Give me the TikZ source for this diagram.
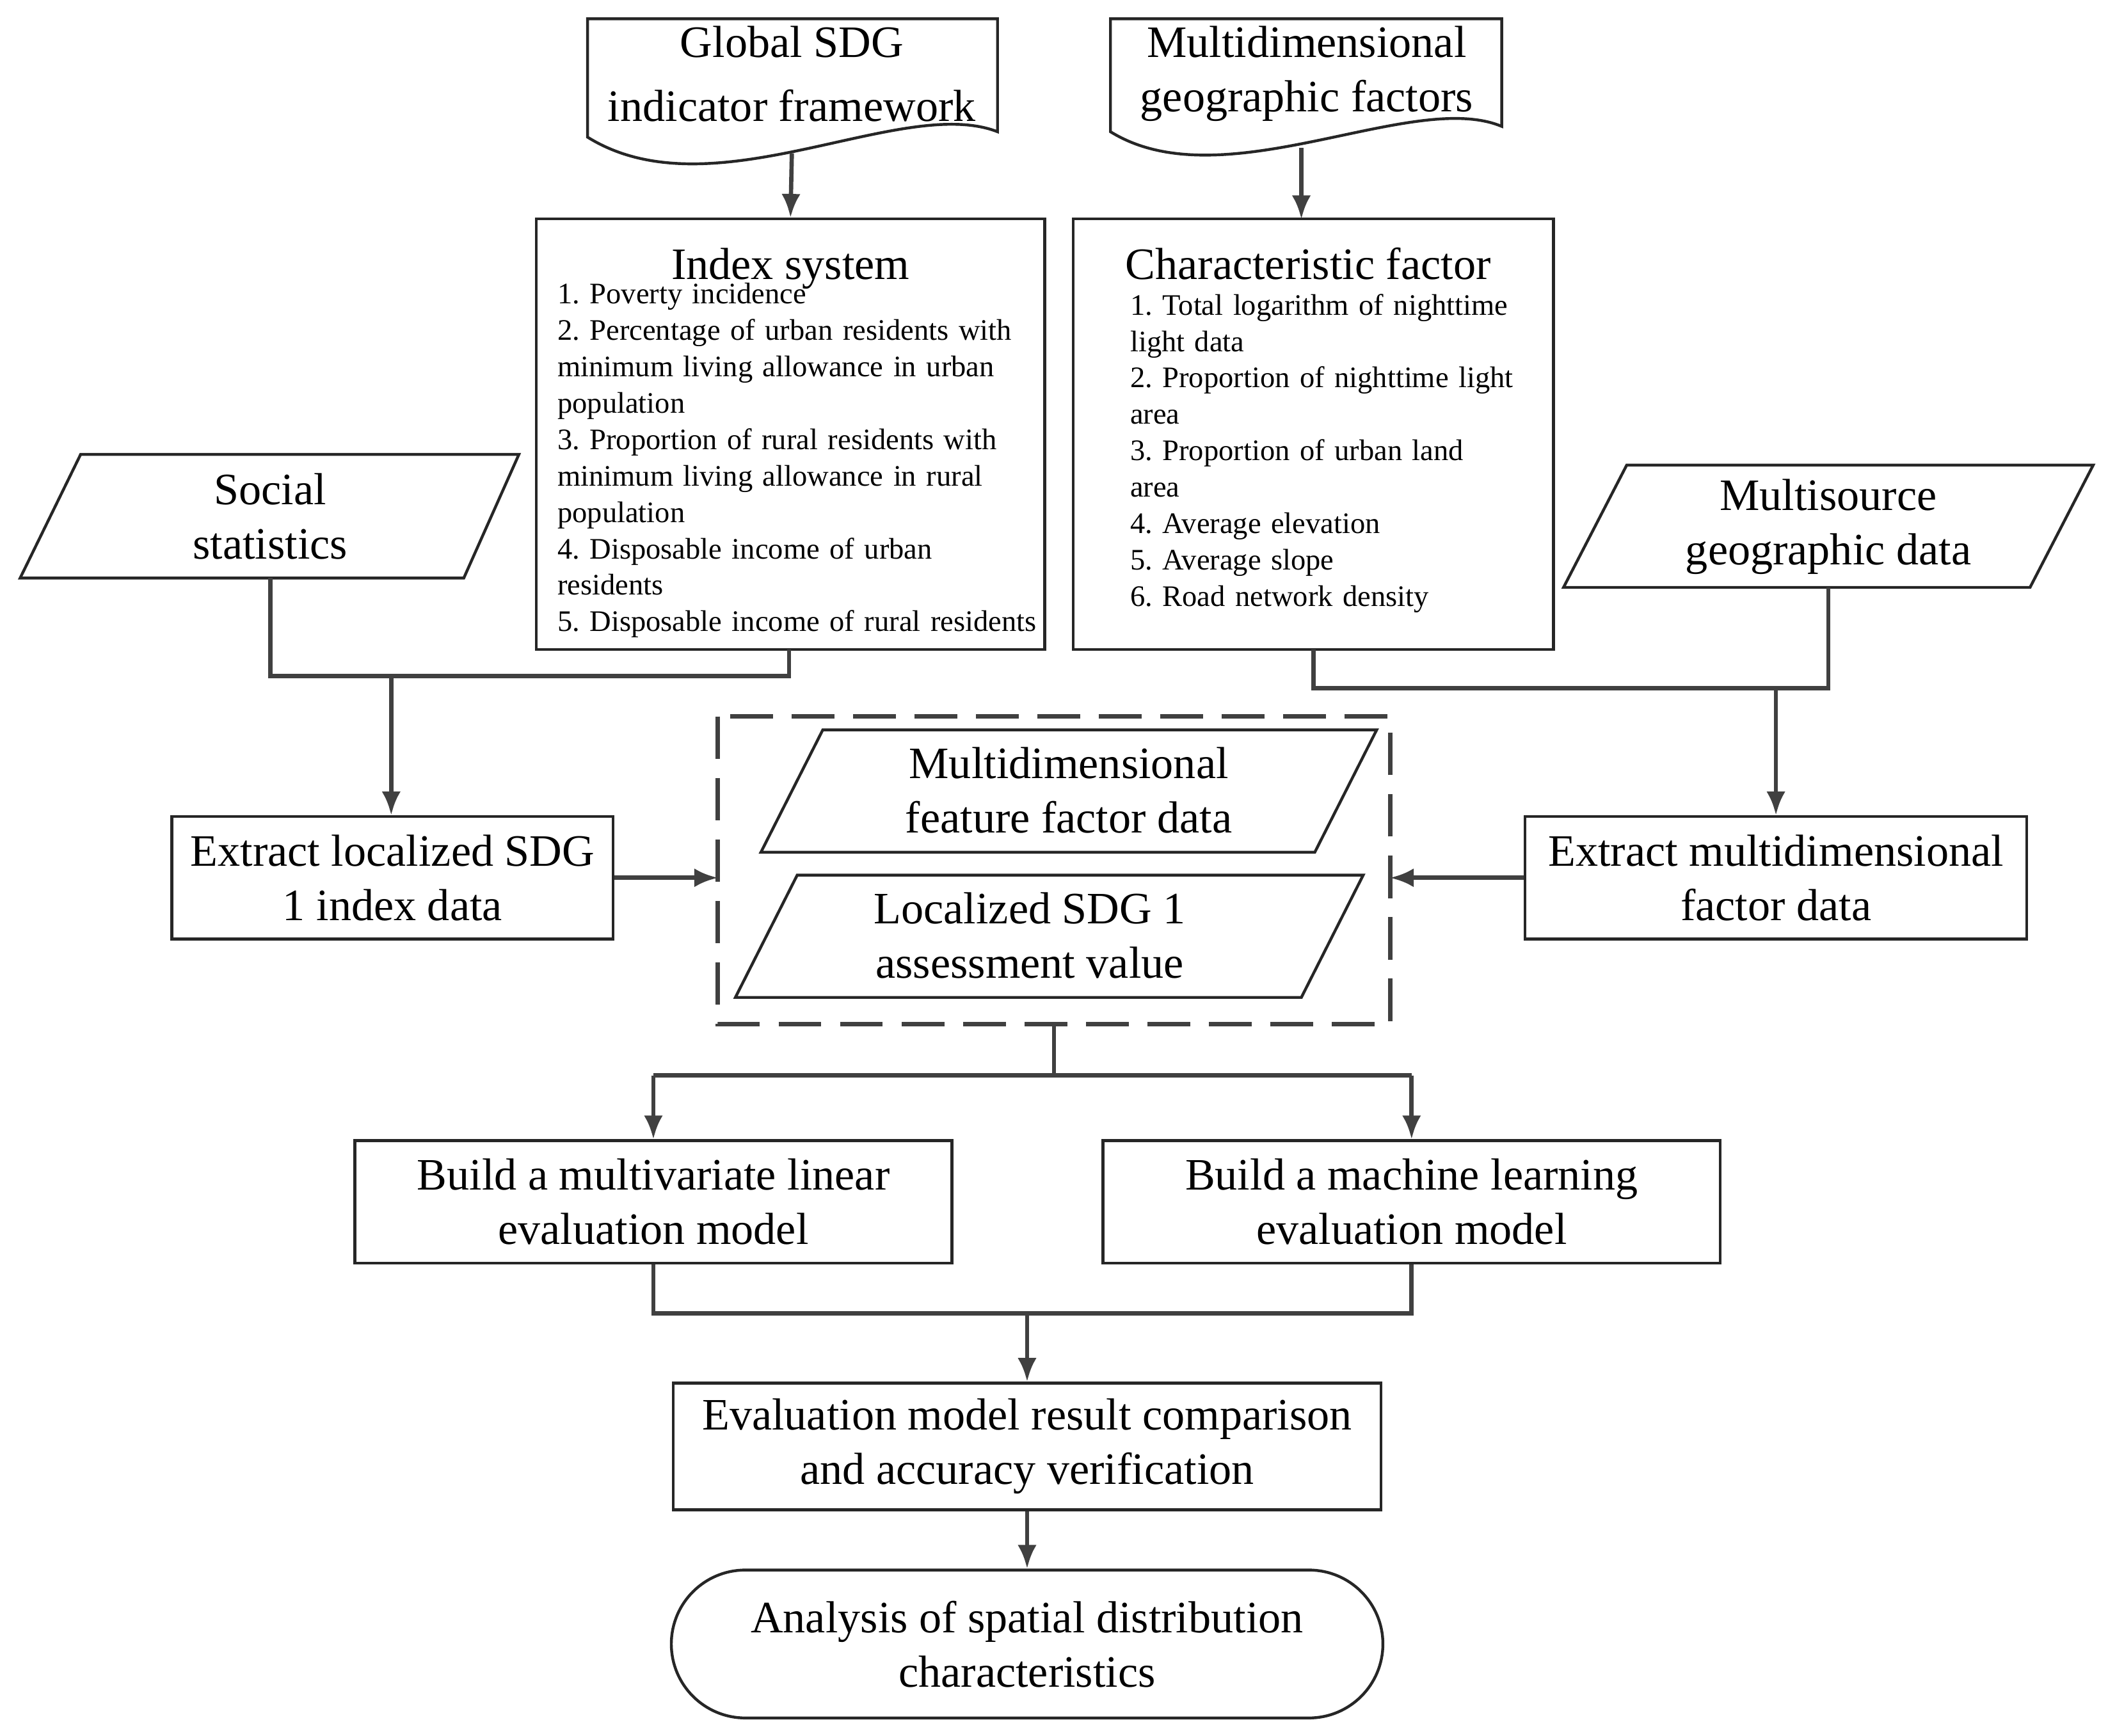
\documentclass[tikz,border=0pt]{standalone}
\usepackage{fontspec}
\setmainfont{Liberation Serif}
\usepackage{tikz}
\usetikzlibrary{arrows.meta}
\usetikzlibrary{positioning}
\newcommand{\nohyph}{\hyphenpenalty=10000 \exhyphenpenalty=10000 \frenchspacing}
\tikzset{
    box/.style={draw=black!85, line width=0.6pt, align=center, font=\fontsize{9.5}{11.5}\selectfont},
    shapeline/.style={draw=black!85, line width=0.6pt},
    txt/.style={align=center, font=\fontsize{9.5}{11.5}\selectfont},
    lst/.style={align=left, font=\fontsize{6.3}{7.7}\selectfont, inner sep=0pt},
    link/.style={draw=black!75, line width=0.9pt},
    arr/.style={draw=black!75, line width=0.9pt, -{Latex[length=5pt,width=4pt]}},
}
\begin{document}
\begin{tikzpicture}[x=0.01cm, y=-0.01cm]
\useasboundingbox (0,0) rectangle (1568,1291);
% documents
\draw[shapeline] (437,14) -- (742,14) -- (742,98) .. controls (670,70) and (530,160) .. (437,102) -- cycle;
\node[txt] (glob) at (589,55) {Global SDG\\[2pt]indicator framework};
\draw[shapeline] (826,14) -- (1117,14) -- (1117,94) .. controls (1050,66) and (910,150) .. (826,98) -- cycle;
\node[txt] (mdim) at (972,55) {Multidimensional\\geographic factors};
% text boxes
\node[box, minimum width=3.78cm, minimum height=3.2cm] (index) at (588,323) {};
\node[txt, anchor=north] at (588,172) {Index system};
\node[lst, anchor=north west, text width=3.6cm] at (414,210) {\nohyph 1. Poverty incidence\\2. Percentage of urban residents with minimum living allowance in urban population\\3. Proportion of rural residents with minimum living allowance in rural population\\4. Disposable income of urban residents\\5. Disposable income of rural residents};
\node[box, minimum width=3.57cm, minimum height=3.2cm] (char) at (977,323) {};
\node[txt, anchor=north] at (973,172) {Characteristic factor};
\node[lst, anchor=north west, text width=2.85cm] at (840,218) {\nohyph 1. Total logarithm of nighttime light data\\2. Proportion of nighttime light area\\3. Proportion of urban land area\\4. Average elevation\\5. Average slope\\6. Road network density};
% data inputs
\draw[shapeline] (60,338) -- (386,338) -- (345,430) -- (15,430) -- cycle;
\node[txt] (soc) at (201,384) {Social\\statistics};
\draw[shapeline] (1210,346) -- (1557,346) -- (1510,437) -- (1163,437) -- cycle;
\node[txt] (msrc) at (1360,392) {Multisource\\geographic data};
% extraction
\node[box, minimum width=3.28cm, minimum height=0.91cm] (extl) at (292,653) {Extract localized SDG\\1 index data};
\node[box, minimum width=3.73cm, minimum height=0.91cm] (extm) at (1321,653) {Extract multidimensional\\factor data};
% dashed group
\draw[draw=black!75, line width=0.9pt, dash pattern=on 9pt off 4pt] (534,533) rectangle (1034,762);
\coordinate (grpl) at (534,653);
\coordinate (grpr) at (1034,653);
\coordinate (grpb) at (784,762);
\draw[shapeline] (612,543) -- (1024,543) -- (978,634) -- (566,634) -- cycle;
\node[txt] (feat) at (795,588) {Multidimensional\\feature factor data};
\draw[shapeline] (593,651) -- (1014,651) -- (968,742) -- (547,742) -- cycle;
\node[txt] (asv) at (766,696) {Localized SDG 1\\assessment value};
% models
\node[box, minimum width=4.44cm, minimum height=0.91cm] (lin) at (486,894) {Build a multivariate linear\\evaluation model};
\node[box, minimum width=4.59cm, minimum height=0.91cm] (ml) at (1050,894) {Build a machine learning\\evaluation model};
\node[box, minimum width=5.26cm, minimum height=0.87cm] (eval) at (764,1076) {Evaluation model result comparison\\and accuracy verification};
\node[box, rounded corners=0.55cm, minimum width=5.29cm, minimum height=1.1cm] (ana) at (764,1223) {Analysis of spatial distribution\\characteristics};
% connectors
\draw[arr] (589,114) -- (index.north);
\draw[arr] (968,110) -- (968,163);
\draw[link] (201,430) -- (201,503) -- (587,503) -- (587,483);
\draw[arr] (291,503) -- (extl.north -| 291,0);
\draw[link] (977,483) -- (977,512) -- (1360,512) -- (1360,437);
\draw[arr] (1321,512) -- (extm.north);
\draw[arr] (extl.east) -- (grpl);
\draw[arr] (extm.west) -- (grpr);
\draw[link] (grpb) -- (784,800);
\draw[link] (486,800) -- (1050,800);
\draw[arr] (486,800) -- (lin.north);
\draw[arr] (1050,800) -- (ml.north);
\draw[link] (lin.south) -- (486,977) -- (1050,977) -- (ml.south);
\draw[arr] (764,977) -- (eval.north);
\draw[arr] (eval.south) -- (ana.north);
\end{tikzpicture}
\end{document}
